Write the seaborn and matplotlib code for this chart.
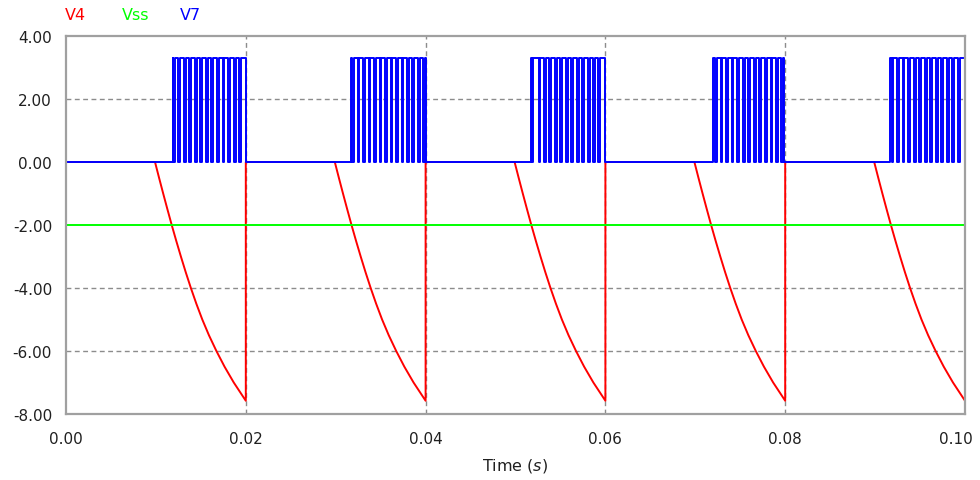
import numpy as np
import pandas as pd
import matplotlib
matplotlib.use("Agg")
import matplotlib.pyplot as plt
import matplotlib.transforms as mtransforms
import seaborn as sns

# ---- data -------------------------------------------------------------
t_stop = 0.10
cycle_starts = [0.00, 0.02, 0.04, 0.06, 0.08]

# V4 ramp within one 20 ms cycle (time offset from cycle start, volts)
ramp_t = [0.0099, 0.01035, 0.01081, 0.01128, 0.01176, 0.01226, 0.01278,
          0.01332, 0.01389, 0.01450, 0.01516, 0.01590, 0.01673, 0.01764,
          0.01866, 0.0200]
ramp_v = [0.0, -0.5, -1.0, -1.5, -2.0, -2.5, -3.0, -3.5, -4.0, -4.5,
          -5.0, -5.5, -6.0, -6.5, -7.0, -7.58]

# Vss supply level
vss_level = -2.0

# V7 PWM bursts: on/off times and centres of the low notches
v7_high = 3.3
burst_on = [0.01185, 0.03174, 0.0517, 0.07193, 0.09167]
burst_off = [0.0200, 0.0400, 0.0599, 0.0799, 0.1000]
notch_width = 0.0002
notches = [
    [0.01204, 0.01261, 0.01322, 0.01383, 0.01444, 0.01505, 0.01567,
     0.01628, 0.01690, 0.01751, 0.01812, 0.01876, 0.01939],
    [0.03193, 0.03254, 0.03315, 0.03376, 0.03437, 0.03498, 0.03559,
     0.03620, 0.03681, 0.03742, 0.03803, 0.03864, 0.03925, 0.03980],
    [0.05189, 0.05267, 0.05326, 0.05386, 0.05447, 0.05508, 0.05569,
     0.05631, 0.05692, 0.05753, 0.05814, 0.05874, 0.05928],
    [0.07233, 0.07291, 0.07353, 0.07414, 0.07476, 0.07539, 0.07600,
     0.07661, 0.07724, 0.07786, 0.07847, 0.07906, 0.07961],
    [0.09193, 0.09256, 0.09315, 0.09378, 0.09441, 0.09500, 0.09563,
     0.09626, 0.09686, 0.09748, 0.09811, 0.09870, 0.09933],
]

y_ticks = [4.0, 2.0, 0.0, -2.0, -4.0, -6.0, -8.0]
x_ticks = [0.00, 0.02, 0.04, 0.06, 0.08, 0.10]
series_names = ["V4", "Vss", "V7"]
series_colors = ["#ff0000", "#00ff00", "#0000ff"]

# ---- build waveforms --------------------------------------------------
v4_t, v4_v = [0.0], [0.0]
for cs in cycle_starts:
    for dt, v in zip(ramp_t, ramp_v):
        v4_t.append(cs + dt)
        v4_v.append(v)
    if cs + 0.02 < t_stop - 1e-9:
        v4_t.append(cs + 0.02)
        v4_v.append(0.0)

vss_t = [0.0, t_stop]
vss_v = [vss_level, vss_level]

v7_t, v7_v = [0.0], [0.0]
for on, off, ns in zip(burst_on, burst_off, notches):
    v7_t += [on, on]
    v7_v += [0.0, v7_high]
    for c in ns:
        a, b = c - notch_width / 2, c + notch_width / 2
        v7_t += [a, a, b, b]
        v7_v += [v7_high, 0.0, 0.0, v7_high]
    if off < t_stop - 1e-9:
        v7_t += [off, off]
        v7_v += [v7_high, 0.0]
    else:
        v7_t.append(off)
        v7_v.append(v7_high)

frames = []
for name, tt, vv in zip(series_names, [v4_t, vss_t, v7_t], [v4_v, vss_v, v7_v]):
    frames.append(pd.DataFrame({"t": tt, "v": vv, "signal": name,
                                "order": np.arange(len(tt))}))
df = pd.concat(frames, ignore_index=True)

# ---- plot -------------------------------------------------------------
sns.set_theme(style="white")
plt.rcParams["font.family"] = ["DejaVu Sans"]
plt.rcParams["mathtext.fontset"] = "dejavusans"

fig = plt.figure(figsize=(9.8, 4.81), dpi=100)
ax = fig.add_axes([66 / 980, 1 - 415 / 481, (965 - 66) / 980, (415 - 37) / 481])

grid_kw = dict(color="#8c8c8c", lw=1.0, linestyle=(0, (3.5, 2.5)), zorder=0)
for y in [2.0, -4.0, -6.0]:
    ax.axhline(y, **grid_kw)
for x in [0.02, 0.04, 0.06, 0.08]:
    ax.axvline(x, **grid_kw)

for name, color in zip(series_names, series_colors):
    sub = df[df["signal"] == name]
    sns.lineplot(data=sub, x="t", y="v", ax=ax, color=color, lw=1.4,
                 estimator=None, sort=False, legend=False)

ax.set_xlim(0.0, t_stop)
ax.set_ylim(-8.0, 4.0)
ax.set_xticks(x_ticks)
ax.set_xticklabels([f"{x:.2f}" for x in x_ticks])
ax.set_yticks(y_ticks)
ax.set_yticklabels([f"{y:.2f}" for y in y_ticks])
ax.tick_params(axis="both", length=0, labelsize=11, colors="#202020")
ax.tick_params(axis="x", pad=12)
ax.tick_params(axis="y", pad=10)
ax.set_ylabel("")
ax.set_xlabel(r"Time ($\mathit{s}$)", fontsize=11.5, color="#202020")
ax.xaxis.set_label_coords(0.5, -0.135)
ax.xaxis.label.set_va("center")

# keep the last time label inside the figure
last = ax.get_xticklabels()[-1]
last.set_transform(last.get_transform() +
                   mtransforms.ScaledTranslation(-9 / 100, 0, fig.dpi_scale_trans))

for sp in ax.spines.values():
    sp.set_color("#a0a0a0")
    sp.set_linewidth(1.6)
    sp.set_visible(True)

for name, color, xpix in zip(series_names, series_colors, [65, 122, 180]):
    fig.text(xpix / 980, 1 - 16 / 481, name, color=color, fontsize=11.5,
             ha="left", va="center")

fig.savefig("out.png", dpi=100)
